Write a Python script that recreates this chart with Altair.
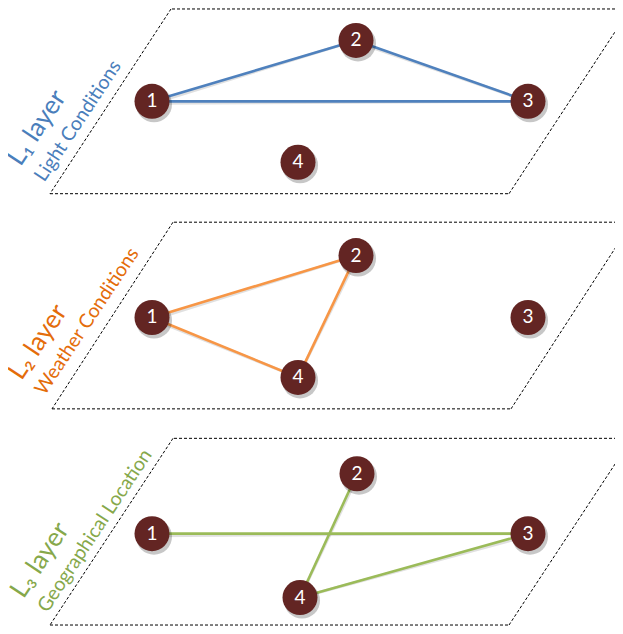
import altair as alt
import pandas as pd

# ---- data -------------------------------------------------------------
layer_keys = ["L1", "L2", "L3"]
layer_titles = ["L\u2081 layer", "L\u2082 layer", "L\u2083 layer"]
layer_subtitles = ["Light Conditions", "Weather Conditions", "Geographical Location"]
edge_colors = ["#4F81BD", "#F79646", "#9BBB59"]
text_colors = ["#4A7EBB", "#E46C0A", "#86A84B"]

# parallelogram planes (top / bottom y, corner x)
plane_top_y = [4, 221, 441]
plane_bottom_y = [192, 411, 631]
plane_bl_x = [50, 52, 50]
plane_tl_x = [171, 173, 173]
plane_br_x = [509, 511, 509]
plane_tr_x = [630, 632, 632]

node_ids = ["1", "2", "3", "4"]
node_x = [[152, 356, 528, 298], [152, 356, 528, 298], [152, 357, 528, 300]]
node_y = [[98, 36, 98, 160], [318, 255, 318, 379], [538, 477, 538, 603]]

edges = [[("1", "2"), ("2", "3"), ("1", "3")],
         [("1", "2"), ("1", "4"), ("2", "4")],
         [("1", "3"), ("2", "4"), ("3", "4")]]

title_x = [37, 38, 40]
title_y = [125, 343, 565]
sub_x = [78, 87, 95]
sub_y = [118, 322, 535]

# ---- tables -----------------------------------------------------------
plane_rows = []
for i in range(3):
    bl = (plane_bl_x[i], plane_bottom_y[i])
    br = (plane_br_x[i], plane_bottom_y[i])
    tl = (plane_tl_x[i], plane_top_y[i])
    tr = (plane_tr_x[i], plane_top_y[i])
    for a, b in [(bl, br), (br, tr), (tr, tl), (tl, bl)]:
        plane_rows.append({"x": a[0], "y": a[1], "x2": b[0], "y2": b[1]})
planes = pd.DataFrame(plane_rows)

node_rows, edge_rows = [], []
for i in range(3):
    pos = {nid: (node_x[i][k], node_y[i][k]) for k, nid in enumerate(node_ids)}
    for nid in node_ids:
        node_rows.append({"x": pos[nid][0], "y": pos[nid][1], "label": nid})
    for a, b in edges[i]:
        edge_rows.append({"x": pos[a][0], "y": pos[a][1], "x2": pos[b][0],
                          "y2": pos[b][1], "color": edge_colors[i]})
nodes = pd.DataFrame(node_rows)
edge_df = pd.DataFrame(edge_rows)

titles = pd.DataFrame({"x": title_x, "y": title_y, "text": layer_titles, "color": text_colors})
subs = pd.DataFrame({"x": sub_x, "y": sub_y, "text": layer_subtitles, "color": text_colors})

# ---- chart ------------------------------------------------------------
xs = alt.Scale(domain=[8, 615], nice=False, zero=False)
ys = alt.Scale(domain=[3, 632], nice=False, zero=False, reverse=True)
X = lambda f: alt.X(f, type="quantitative", scale=xs, axis=None)
Y = lambda f: alt.Y(f, type="quantitative", scale=ys, axis=None)

plane_layer = alt.Chart(planes).mark_rule(
    color="#000000", strokeWidth=1, strokeDash=[3, 2]
).encode(x=X("x"), y=Y("y"), x2="x2", y2="y2")

edge_shadow = alt.Chart(edge_df).mark_rule(
    color="#000000", strokeWidth=3, opacity=0.12, yOffset=2, xOffset=1
).encode(x=X("x"), y=Y("y"), x2="x2", y2="y2")

edge_layer = alt.Chart(edge_df).mark_rule(strokeWidth=2.6).encode(
    x=X("x"), y=Y("y"), x2="x2", y2="y2",
    color=alt.Color("color:N", scale=None)
)

node_shadow = alt.Chart(nodes).mark_circle(
    size=1300, color="#000000", opacity=0.22, xOffset=2, yOffset=3
).encode(x=X("x"), y=Y("y"))

node_layer = alt.Chart(nodes).mark_circle(
    size=1225, color="#632523", opacity=1
).encode(x=X("x"), y=Y("y"))

node_text = alt.Chart(nodes).mark_text(
    color="#FFFFFF", font="Lato", fontSize=19, align="center", baseline="middle"
).encode(x=X("x"), y=Y("y"), text="label:N")

title_layer = alt.Chart(titles).mark_text(
    font="Lato", fontSize=26, angle=303.5, align="center", baseline="middle"
).encode(x=X("x"), y=Y("y"), text="text:N", color=alt.Color("color:N", scale=None))

sub_layer = alt.Chart(subs).mark_text(
    font="Lato", fontSize=19.5, angle=303.5, align="center", baseline="middle"
).encode(x=X("x"), y=Y("y"), text="text:N", color=alt.Color("color:N", scale=None))

chart = alt.layer(
    plane_layer, edge_shadow, edge_layer, node_shadow, node_layer, node_text,
    title_layer, sub_layer
).properties(
    width=607, height=618, background="#FFFFFF",
    padding={"left": 0, "top": 0, "right": 0, "bottom": 0},
    autosize=alt.AutoSizeParams(type="none")
).configure_view(strokeWidth=0)

chart.save("out.html", embed_options={"renderer": "svg", "actions": False})
